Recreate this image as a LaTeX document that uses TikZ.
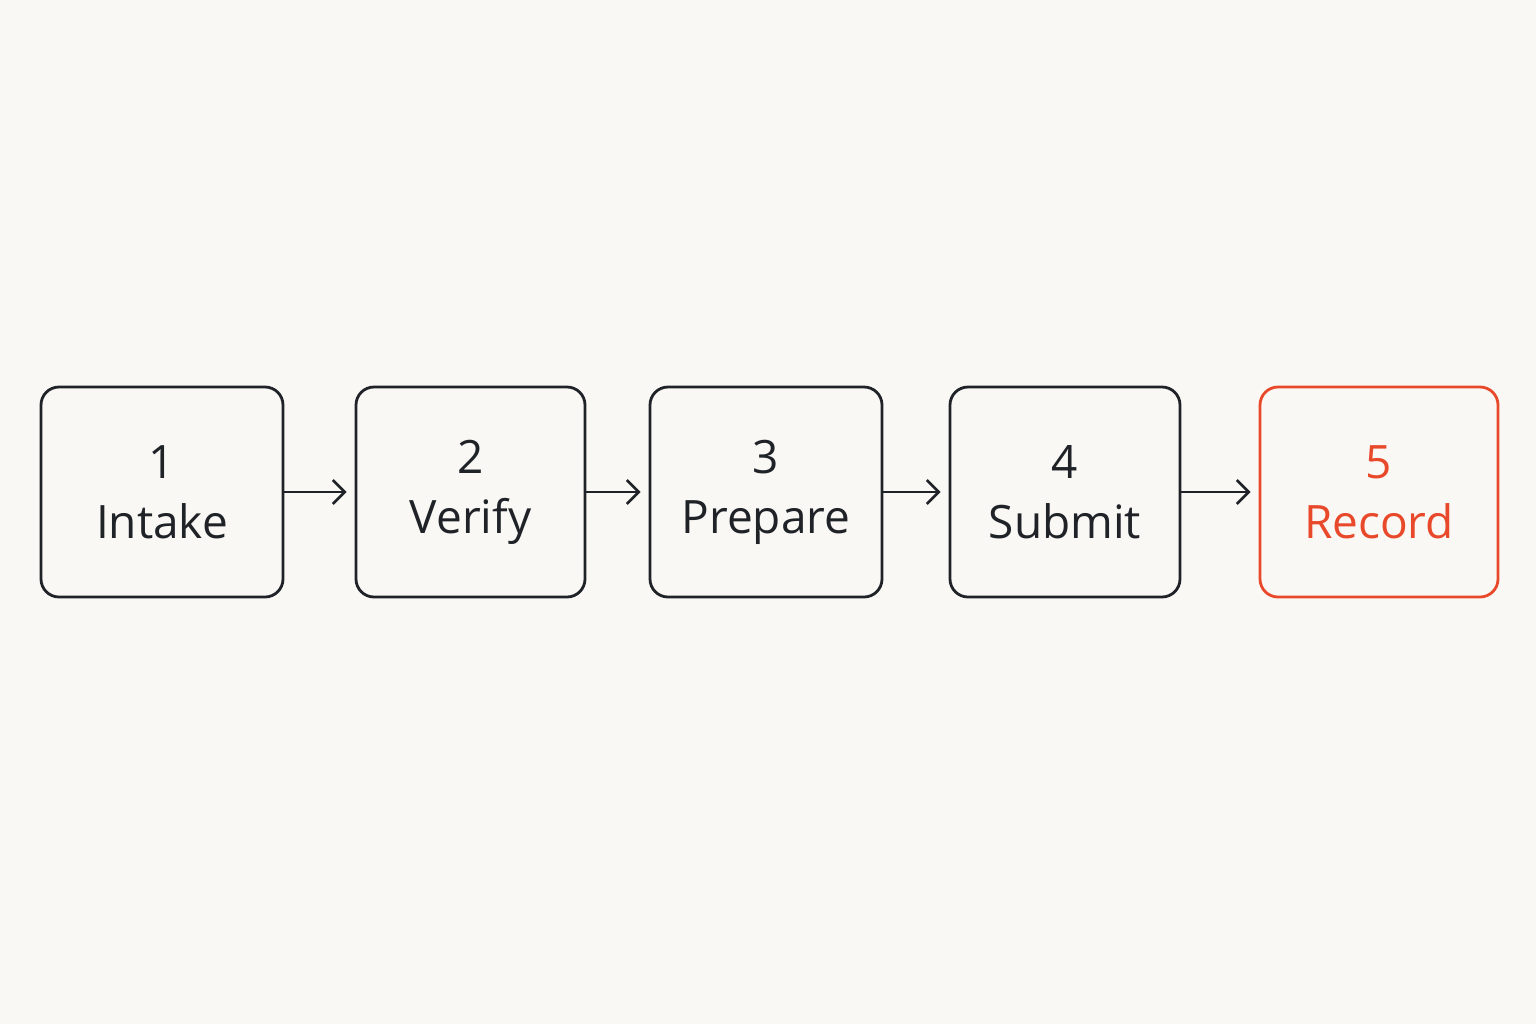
\documentclass[tikz,border=0pt]{standalone}
\usepackage{fontspec}
\setmainfont{Open Sans}
\usetikzlibrary{arrows.meta}
\definecolor{bg}{HTML}{FAF8F4}
\definecolor{ink}{HTML}{1F2328}
\definecolor{accent}{HTML}{E8492A}
\begin{document}
\begin{tikzpicture}[x=0.5pt,y=-0.5pt,
  box/.style={draw=ink,line width=1.4pt,rounded corners=9pt,minimum height=105pt,inner sep=0pt,align=center,text=ink,font=\fontsize{23}{30}\selectfont},
  flowarrow/.style={draw=ink,line width=1.3pt,-{Straight Barb[length=6pt,width=12pt,line width=1.3pt]},shorten >=4pt}]
\fill[bg] (0,0) rectangle (1536,1024);
\useasboundingbox (0,0) rectangle (1536,1024);
\node[box,minimum width=121pt] (b1) at (162,492) {1\\Intake};
\node[box,minimum width=114.5pt] (b2) at (470.5,492) {2\\Verify};
\node[box,minimum width=116pt] (b3) at (766,492) {3\\Prepare};
\node[box,minimum width=115pt] (b4) at (1065,492) {4\\Submit};
\node[box,minimum width=119pt,draw=accent,text=accent] (b5) at (1379,492) {5\\Record};
\draw[flowarrow] (b1) -- (b2);
\draw[flowarrow] (b2) -- (b3);
\draw[flowarrow] (b3) -- (b4);
\draw[flowarrow] (b4) -- (b5);
\end{tikzpicture}
\end{document}
